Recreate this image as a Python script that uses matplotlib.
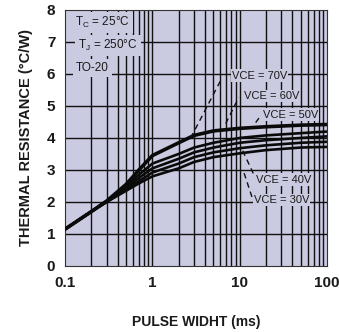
import matplotlib
matplotlib.use("Agg")
import matplotlib.pyplot as plt
import numpy as np

plt.rcParams['font.family'] = ['Liberation Sans', 'DejaVu Sans']

# data
pulse_ms = [0.1, 0.2, 0.3, 0.5, 0.7, 1, 2, 3, 5, 10, 20, 50, 100]
r_70 = [1.15, 1.70, 2.03, 2.55, 3.00, 3.45, 3.85, 4.08, 4.22, 4.30, 4.35, 4.40, 4.42]
r_60 = [1.15, 1.70, 2.03, 2.50, 2.85, 3.20, 3.50, 3.70, 3.85, 4.00, 4.08, 4.15, 4.20]
r_50 = [1.15, 1.70, 2.03, 2.45, 2.75, 3.05, 3.35, 3.55, 3.70, 3.85, 3.93, 4.00, 4.05]
r_40 = [1.15, 1.70, 2.00, 2.40, 2.65, 2.92, 3.20, 3.40, 3.55, 3.68, 3.77, 3.85, 3.88]
r_30 = [1.15, 1.70, 2.00, 2.35, 2.58, 2.80, 3.05, 3.25, 3.40, 3.52, 3.62, 3.70, 3.72]
series = [r_70, r_60, r_50, r_40, r_30]
series_lw = [2.6, 1.9, 1.9, 1.9, 1.9]

labels = ["VCE = 70V", "VCE = 60V", "VCE = 50V", "VCE = 40V", "VCE = 30V"]
label_x = [8.1, 11.1, 18.4, 15.3, 14.5]
label_y = [5.95, 5.30, 4.73, 2.70, 2.05]
# dashed leader lines (x0, y0, x1, y1)
lead_x0 = [2.74, 6.9, 15.2, 10.8, 11.2]
lead_y0 = [4.00, 4.45, 4.48, 3.60, 2.90]
lead_x1 = [6.05, 9.75, 17.4, 14.5, 14.0]
lead_y1 = [5.80, 5.27, 4.70, 2.85, 2.10]

cond_text = [r"T$_\mathregular{C}$ = 25°C", r"T$_\mathregular{J}$ = 250°C", "TO-20"]
cond_x = [0.13, 0.141, 0.134]
cond_y = [7.6, 6.9, 6.2]

yticks = [0, 1, 2, 3, 4, 5, 6, 7, 8]
xticks = [0.1, 1, 10, 100]
xtick_labels = ["0.1", "1", "10", "100"]

bg = '#cacae0'

fig = plt.figure(figsize=(3.39, 3.32), dpi=100)
ax = fig.add_axes([0.192, 0.199, 0.773, 0.771])
ax.set_facecolor(bg)
ax.set_xscale('log')
ax.set_xlim(0.1, 100)
ax.set_ylim(0, 8)

# grid
minor = [m * 10.0 ** d for d in (-1, 0, 1) for m in range(2, 10)]
for xv in minor + [1, 10]:
    ax.axvline(xv, color='#111111', lw=1.0, zorder=1)
for yv in yticks[1:-1]:
    ax.axhline(yv, color='#111111', lw=1.0, zorder=1)

for s, lw in zip(series, series_lw):
    ax.plot(pulse_ms, s, color='#0a0a0a', lw=lw, zorder=3, solid_capstyle='round')

for i in range(len(labels)):
    ax.plot([lead_x0[i], lead_x1[i]], [lead_y0[i], lead_y1[i]], color='#111111',
            lw=1.0, ls=(0, (4, 3)), zorder=3)
    ax.text(label_x[i], label_y[i], labels[i], fontsize=8, va='center', ha='left',
            color='#1a1a1a', zorder=4,
            bbox=dict(boxstyle='square,pad=0.1', fc=bg, ec='none'))

for t, xx, yy in zip(cond_text, cond_x, cond_y):
    ax.text(xx, yy, t, fontsize=8.5, va='center', ha='left', color='#1a1a1a', zorder=4,
            bbox=dict(boxstyle='square,pad=0.25', fc=bg, ec='none'))

ax.set_xticks(xticks)
ax.set_xticklabels(xtick_labels)
ax.set_xticks([], minor=True)
ax.set_yticks(yticks)
ax.tick_params(length=0, labelsize=11, pad=7)
for lab in ax.get_xticklabels() + ax.get_yticklabels():
    lab.set_fontweight('bold')
    lab.set_color('#1a1a1a')
for sp in ax.spines.values():
    sp.set_color('#333333')
    sp.set_linewidth(0.8)

ax.set_xlabel("PULSE WIDHT (ms)", fontsize=10, fontweight='bold', labelpad=18, color='#1a1a1a')
ax.set_ylabel("THERMAL RESISTANCE (°C/W)", fontsize=10.5, fontweight='bold', labelpad=10, color='#1a1a1a')

fig.savefig("out.png", dpi=100)
